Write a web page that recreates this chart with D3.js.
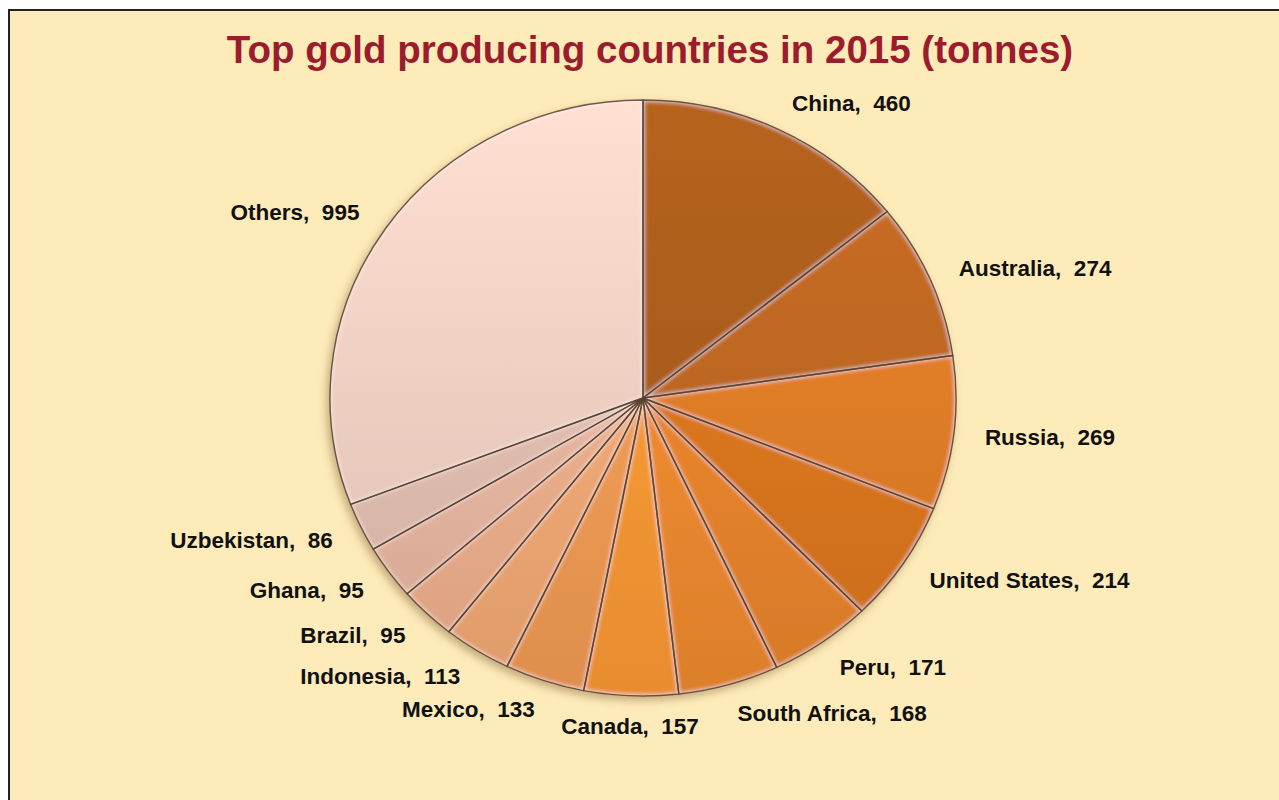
<!DOCTYPE html>
<html>
<head>
<meta charset="utf-8">
<script src="https://cdn.jsdelivr.net/npm/d3@7"></script>
<style>
  html, body { margin: 0; padding: 0; background: #fff; }
  svg { display: block; font-family: "Liberation Sans", Arial, sans-serif; }
</style>
</head>
<body>
<svg id="chart" width="1279" height="800"></svg>
<script>
const countries = ["China", "Australia", "Russia", "United States", "Peru", "South Africa",
    "Canada", "Mexico", "Indonesia", "Brazil", "Ghana", "Uzbekistan", "Others"],
    tonnes = [460, 274, 269, 214, 171, 168, 157, 133, 113, 95, 95, 86, 995],
    sliceColors = ["#a65a1c", "#b96420", "#db7a24", "#d7741f", "#e5822b", "#ec882e",
        "#f99632", "#f09853", "#efa673", "#e9ac89", "#e3b39e", "#ddbaac", "#ebcbbe"],
    title = "Top gold producing countries in 2015 (tonnes)";

const svg = d3.select("#chart"),
    width = +svg.attr("width"),
    height = +svg.attr("height"),
    cx = 643, cy = 398,
    rx = 313, ry = 298;   // picture is stretched a little sideways

const defs = svg.append("defs");

// soft light band along the inside edge of every slice
const bevel = defs.append("filter").attr("id", "bevel")
    .attr("x", "-5%").attr("y", "-5%").attr("width", "110%").attr("height", "110%");
bevel.append("feGaussianBlur").attr("in", "SourceAlpha").attr("stdDeviation", 2.5).attr("result", "blur");
bevel.append("feComposite").attr("in", "SourceAlpha").attr("in2", "blur")
    .attr("operator", "arithmetic").attr("k1", 0).attr("k2", 1).attr("k3", -1).attr("k4", 0)
    .attr("result", "edge");
bevel.append("feFlood").attr("flood-color", "#fff").attr("flood-opacity", 0.9).attr("result", "white");
bevel.append("feComposite").attr("in", "white").attr("in2", "edge").attr("operator", "in").attr("result", "hl");
const merge = bevel.append("feMerge");
merge.append("feMergeNode").attr("in", "SourceGraphic");
merge.append("feMergeNode").attr("in", "hl");

// soft shadow under the pie
const shadow = defs.append("filter").attr("id", "shadow")
    .attr("x", "-10%").attr("y", "-10%").attr("width", "120%").attr("height", "120%");
shadow.append("feDropShadow").attr("dx", -3).attr("dy", 4).attr("stdDeviation", 4)
    .attr("flood-color", "#7a5a2a").attr("flood-opacity", 0.45);

// each slice: lighter at the top of the pie, darker at the bottom
sliceColors.forEach((c, i) => {
    const g = defs.append("linearGradient").attr("id", "grad" + i)
        .attr("gradientUnits", "userSpaceOnUse")
        .attr("x1", 0).attr("y1", -ry).attr("x2", 0).attr("y2", ry);
    g.append("stop").attr("offset", 0).attr("stop-color", d3.color(c).brighter(0.28));
    g.append("stop").attr("offset", 1).attr("stop-color", d3.color(c).darker(0.2));
});

// page strip + framed panel
svg.append("rect").attr("x", 0).attr("y", 0).attr("width", width).attr("height", height).attr("fill", "#fff");
svg.append("rect").attr("x", 11).attr("y", 12).attr("width", width).attr("height", height)
    .attr("fill", "none").attr("stroke", "#999").attr("stroke-width", 2);
svg.append("rect").attr("x", 9).attr("y", 10).attr("width", width).attr("height", height)
    .attr("fill", "#feebba").attr("stroke", "#222").attr("stroke-width", 2);

svg.append("text")
    .attr("x", 650).attr("y", 63)
    .attr("text-anchor", "middle")
    .attr("font-size", 38.5).attr("font-weight", "bold")
    .attr("fill", "#9b1c2c")
    .text(title);

const data = countries.map((c, i) => ({ name: c, value: tonnes[i], idx: i }));

const pie = d3.pie().value(d => d.value).sort(null);
const arcs = pie(data);

const arc = d3.arc().innerRadius(0).outerRadius(ry);

// circle of radius ry, widened into the ellipse
const pieG = svg.append("g")
    .attr("transform", `translate(${cx},${cy})`)
    .attr("filter", "url(#shadow)");
const unitG = pieG.append("g").attr("transform", `scale(${rx / ry},1)`);

unitG.selectAll("path.slice")
    .data(arcs)
    .enter()
    .append("path")
    .attr("class", "slice")
    .attr("d", arc)
    .attr("fill", d => `url(#grad${d.data.idx})`)
    .attr("filter", "url(#bevel)");

unitG.selectAll("path.edge")
    .data(arcs)
    .enter()
    .append("path")
    .attr("class", "edge")
    .attr("d", arc)
    .attr("fill", "none")
    .attr("stroke", "#5b4232")
    .attr("stroke-opacity", 0.85)
    .attr("stroke-width", 1.4)
    .attr("stroke-linejoin", "round");

// labels just outside each slice (Excel best fit style)
const labelK = 1.1;
svg.append("g")
    .selectAll("text")
    .data(arcs)
    .enter()
    .append("text")
    .attr("x", d => cx + rx * labelK * Math.sin((d.startAngle + d.endAngle) / 2))
    .attr("y", d => cy - ry * labelK * Math.cos((d.startAngle + d.endAngle) / 2))
    .attr("dy", "0.36em")
    .attr("text-anchor", d => {
        const s = Math.sin((d.startAngle + d.endAngle) / 2);
        return s > 0.1 ? "start" : s < -0.1 ? "end" : "middle";
    })
    .attr("font-size", 22.5).attr("font-weight", "bold")
    .attr("fill", "#111")
    .style("white-space", "pre")
    .text(d => `${d.data.name},  ${d.data.value}`);
</script>
</body>
</html>
